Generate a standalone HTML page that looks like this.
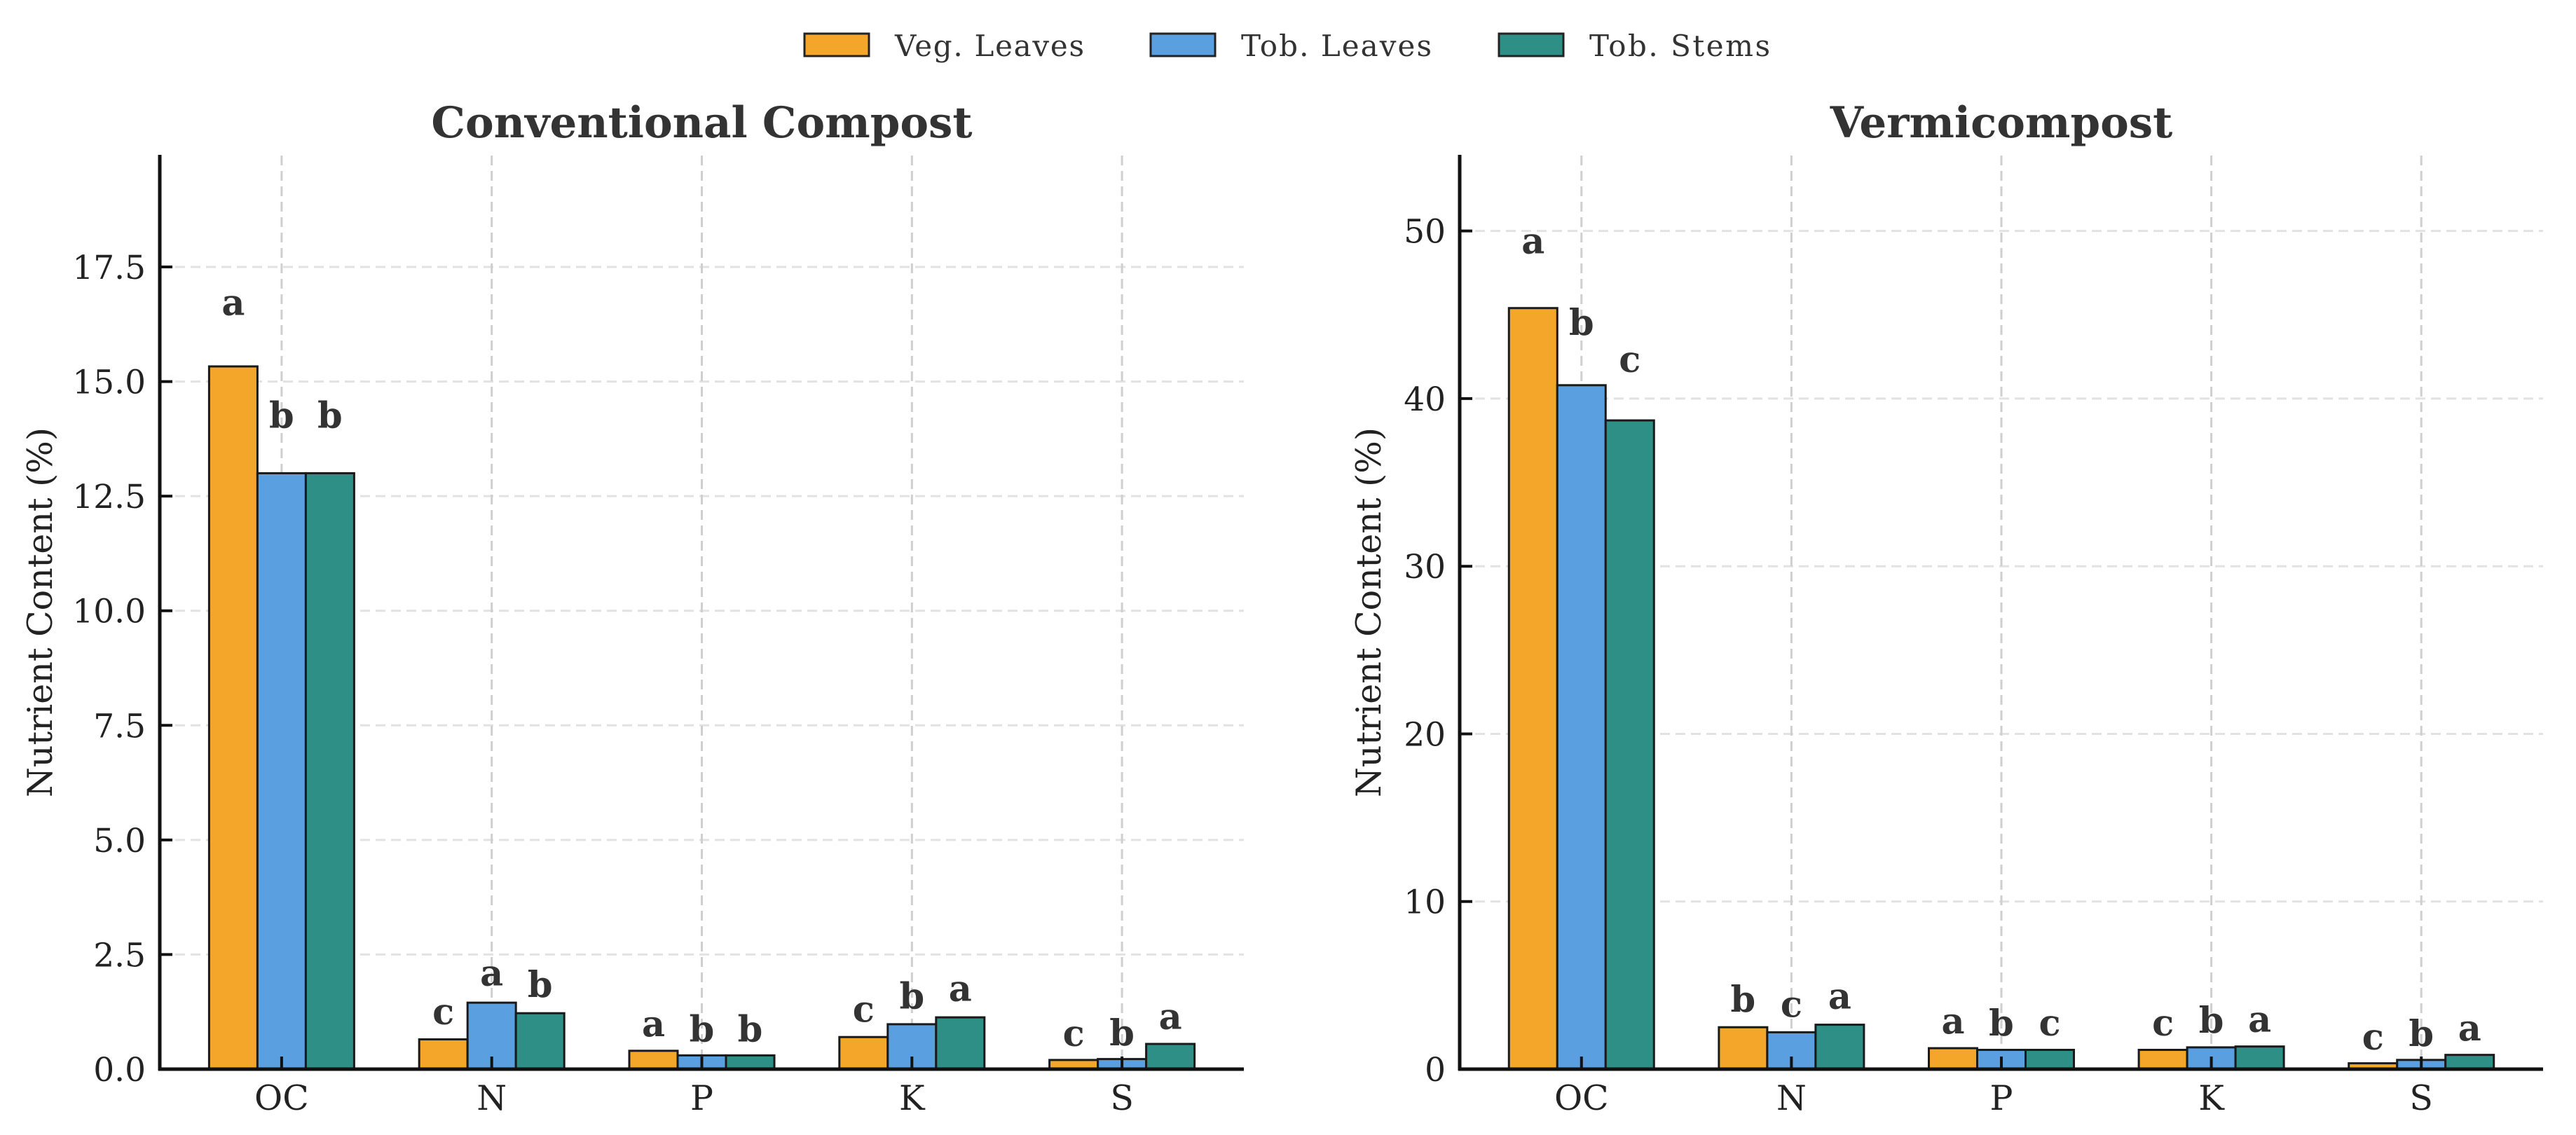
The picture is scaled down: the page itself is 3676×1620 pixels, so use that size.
<!DOCTYPE html>
<html><head><meta charset="utf-8"><style>
html,body{margin:0;padding:0;background:#fff;}
svg{display:block;font-family:"DejaVu Serif","Liberation Serif",serif;}
</style></head>
<body>
<svg id="chart" width="3676" height="1620" viewBox="0 0 3676 1620" xmlns="http://www.w3.org/2000/svg">
<rect width="3676" height="1620" fill="#fff"/>
<g id="legend">
  <g>
    <rect x="1148" y="48" width="92" height="32" fill="#F4A62A" stroke="#222" stroke-width="3"/>
    <text x="1277" y="80" font-size="42" fill="#333" textLength="270">Veg. Leaves</text>
  </g>
  <g>
    <rect x="1642" y="48" width="92" height="32" fill="#5AA0E0" stroke="#222" stroke-width="3"/>
    <text x="1771" y="80" font-size="42" fill="#333" textLength="272">Tob. Leaves</text>
  </g>
  <g>
    <rect x="2139" y="48" width="92" height="32" fill="#2E8F87" stroke="#222" stroke-width="3"/>
    <text x="2268" y="80" font-size="42" fill="#333" textLength="258">Tob. Stems</text>
  </g>
</g>
</svg>
<script>
const categories = ["OC", "N", "P", "K", "S"];
const seriesNames = ["Veg. Leaves", "Tob. Leaves", "Tob. Stems"];
const seriesColors = ["#F4A62A", "#5AA0E0", "#2E8F87"];
const convVeg = [15.33, 0.65, 0.40, 0.70, 0.20];
const convTobLeaves = [13.0, 1.45, 0.30, 0.98, 0.22];
const convTobStems = [13.0, 1.22, 0.30, 1.13, 0.55];
const convLetters = [["a","c","a","c","c"],["b","a","b","b","b"],["b","b","b","a","a"]];
const convTicks = [0, 2.5, 5, 7.5, 10, 12.5, 15, 17.5];
const convTickLabels = ["0.0","2.5","5.0","7.5","10.0","12.5","15.0","17.5"];
const vermVeg = [45.4, 2.5, 1.25, 1.15, 0.35];
const vermTobLeaves = [40.8, 2.2, 1.15, 1.30, 0.55];
const vermTobStems = [38.7, 2.65, 1.15, 1.35, 0.85];
const vermLetters = [["a","b","a","c","c"],["b","c","b","b","b"],["c","a","c","a","a"]];
const vermTicks = [0, 10, 20, 30, 40, 50];
const vermTickLabels = ["0","10","20","30","40","50"];

const NS = "http://www.w3.org/2000/svg";
const svg = document.getElementById("chart");
function mk(tag, attrs, parent) {
  const e = document.createElementNS(NS, tag);
  for (const k in attrs) e.setAttribute(k, attrs[k]);
  (parent || svg).appendChild(e);
  return e;
}

function drawPanel(opt) {
  const g = mk("g", {});
  
  
  const L = opt.left, R = opt.right, T = 222, B = 1526;
  const ymax = opt.ymax;
  const y = v => B - v / ymax * (B - T);
  const xmin = -0.58, xmax = 4.58;
  const x = i => L + (i - xmin) / (xmax - xmin) * (R - L);
  const bw = 69;
  opt.ticks.forEach((t, k) => {
    const gl = mk("line", {x1: L, x2: R, y1: y(t), y2: y(t), stroke: "#e2e2e2", "stroke-width": 3, "stroke-dasharray": "14 8"}, g);
    
    
  });
  categories.forEach((c, i) => {
    const gl = mk("line", {x1: x(i), x2: x(i), y1: T, y2: B, stroke: "#cfcfcf", "stroke-width": 3, "stroke-dasharray": "14 8"}, g);
    
    
  });
  opt.series.forEach((vals, s) => {
    vals.forEach((v, i) => {
      const cx = x(i) + (s - 1) * bw;
      const r = mk("rect", {x: cx - bw / 2, y: y(v), width: bw, height: B - y(v), fill: seriesColors[s], stroke: "#1a1a1a", "stroke-width": 3}, g);
      
      
      const t = mk("text", {x: cx, y: y(v * 1.054) - 19, "font-size": 51, "font-weight": "bold", fill: "#333", "text-anchor": "middle"}, g);
      t.textContent = opt.letters[s][i];
      
      
    });
  });
  const sl = mk("line", {x1: L, x2: L, y1: T - 1, y2: B + 2, stroke: "#111", "stroke-width": 5}, g);
  
  
  const sb = mk("line", {x1: L - 2, x2: R, y1: B, y2: B, stroke: "#111", "stroke-width": 5}, g);
  
  
  opt.ticks.forEach((t, k) => {
    const tk = mk("line", {x1: L, x2: L + 18, y1: y(t), y2: y(t), stroke: "#111", "stroke-width": 4}, g);
    
    
    const tl = mk("text", {x: L - 20, y: y(t) + 17, "font-size": 47, fill: "#222", "text-anchor": "end"}, g);
    tl.textContent = opt.tickLabels[k];
    
    
  });
  categories.forEach((c, i) => {
    const tk = mk("line", {x1: x(i), x2: x(i), y1: B, y2: B - 18, stroke: "#111", "stroke-width": 4}, g);
    
    
    const tl = mk("text", {x: x(i), y: 1584, "font-size": 49, fill: "#222", "text-anchor": "middle"}, g);
    tl.textContent = c;
    
    
  });
  const tt = mk("text", {x: (L + R) / 2, y: 196, "font-size": 61, "font-weight": "bold", fill: "#333", "text-anchor": "middle"}, g);
  tt.textContent = opt.title;
  
  
  const yl = mk("text", {x: 0, y: 0, "font-size": 49, fill: "#222", "text-anchor": "middle", transform: "translate(" + opt.ylabelX + "," + (T + B) / 2 + ") rotate(-90)"}, g);
  yl.textContent = "Nutrient Content (%)";
  
  
}

drawPanel({name: "conventional-compost-panel", title: "Conventional Compost", left: 228, right: 1775, ymax: 19.93,
  series: [convVeg, convTobLeaves, convTobStems], letters: convLetters, ticks: convTicks, tickLabels: convTickLabels, ylabelX: 74});
drawPanel({name: "vermicompost-panel", title: "Vermicompost", left: 2083, right: 3629, ymax: 54.5,
  series: [vermVeg, vermTobLeaves, vermTobStems], letters: vermLetters, ticks: vermTicks, tickLabels: vermTickLabels, ylabelX: 1970});
</script>
</body></html>
